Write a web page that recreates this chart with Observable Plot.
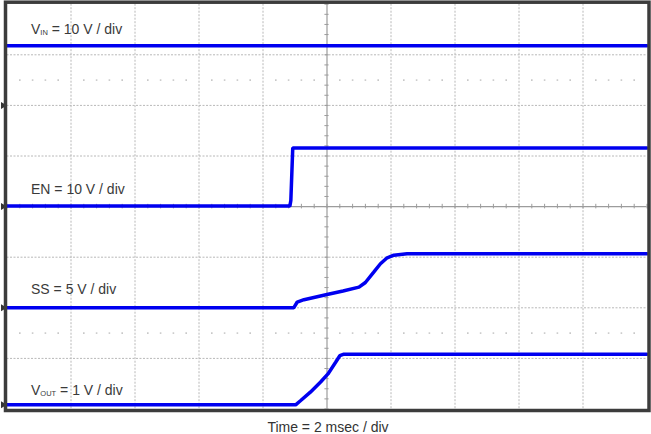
<!DOCTYPE html>
<html><head><meta charset="utf-8">
<script src="https://cdn.jsdelivr.net/npm/d3@7"></script>
<script src="https://cdn.jsdelivr.net/npm/@observablehq/plot@0.6"></script>
<style>body{margin:0;background:#fff;}</style>
</head><body><div id="chart"></div>
<script>
// ---- scope settings ----
const xDomain = [0, 20];          // ms (2 msec / div, 10 div)
const yDomain = [0, 8];           // divisions
const gridX = [2, 4, 6, 8, 12, 14, 16, 18];
const gridY = [1, 2, 3, 5, 6, 7];
const centerX = [10];
const centerY = [4];
const dotRowY = [6.5, 1.5];

// ---- channels ----
const channels = ["VIN", "EN", "SS", "VOUT"];
const voltsPerDiv = [10, 10, 5, 1];
const groundDiv = [6, 4, 2, 0.083];
const labelText = ["VIN = 10 V / div", "EN = 10 V / div", "SS = 5 V / div", "VOUT = 1 V / div"];
const labelY = [7.5, 4.33, 2.37, 0.375];
const labelT = 0.75;
const xLabel = ["Time = 2 msec / div"];

// ---- traces (time ms, volts) ----
const vinT = [0, 20];
const vinV = [11.8, 11.8];
const enT = [0, 8.84, 8.87, 8.93, 20];
const enV = [0.1, 0.1, 1.2, 11.6, 11.6];
const ssT = [0, 8.96, 9.07, 9.28, 10.0, 10.5, 11.0, 11.2, 11.46, 11.67, 11.88, 12.09, 12.5, 20];
const ssV = [0, 0, 0.57, 0.8, 1.31, 1.66, 2.04, 2.5, 3.52, 4.35, 4.94, 5.2, 5.34, 5.34];
const voutT = [0, 9.02, 9.17, 9.48, 9.8, 10.03, 10.27, 10.4, 10.53, 20];
const voutV = [0, 0, 0.08, 0.25, 0.45, 0.61, 0.84, 0.97, 1.0, 1.0];

const traceT = [vinT, enT, ssT, voutT];
const traceV = [vinV, enV, ssV, voutV];
const rows = [];
channels.forEach((ch, i) => {
  traceT[i].forEach((t, j) => rows.push({ch, t, y: groundDiv[i] + traceV[i][j] / voltsPerDiv[i]}));
});
const labels = channels.map((ch, i) => ({ch, text: labelText[i], y: labelY[i], t: labelT}));
const markers = channels.map((ch, i) => ({ch, y: groundDiv[i]}));

// minor dots / ticks derived from the grid
const minorX = d3.range(0, 20.001, 0.4).map(v => +v.toFixed(2)).filter(v => Math.abs(v / 2 - Math.round(v / 2)) > 1e-6);
const dots = [];
dotRowY.forEach(y => minorX.forEach(x => dots.push({x, y})));
const hTicks = d3.range(0, 20.001, 0.4).map(v => +v.toFixed(2));
const vTicks = d3.range(0, 8.001, 0.2).map(v => +v.toFixed(2));

const gridColor = "#b8b8b8";
const plot = Plot.plot({
  width: 651, height: 434,
  marginLeft: 6.5, marginRight: 4.5, marginTop: 3.7, marginBottom: 25.5,
  x: {domain: xDomain, axis: null},
  y: {domain: yDomain, axis: null},
  style: {fontFamily: "'Liberation Sans', Arial, sans-serif", background: "#fff", overflow: "visible"},
  marks: [
    Plot.ruleX(gridX, {stroke: gridColor, strokeWidth: 1, strokeDasharray: "2,1.5"}),
    Plot.ruleY(gridY, {stroke: gridColor, strokeWidth: 1, strokeDasharray: "2,1.5"}),
    Plot.dot(dots, {x: "x", y: "y", symbol: "square", r: 0.9, fill: "#c8c8c8"}),
    Plot.ruleX(centerX, {stroke: "#9c9c9c", strokeWidth: 1.2}),
    Plot.ruleY(centerY, {stroke: "#9c9c9c", strokeWidth: 1.2}),
    Plot.ruleX(hTicks, {x: d => d, y1: 4 - 0.045, y2: 4 + 0.045, stroke: "#9c9c9c", strokeWidth: 1}),
    Plot.ruleY(vTicks, {y: d => d, x1: 10 - 0.065, x2: 10 + 0.065, stroke: "#9c9c9c", strokeWidth: 1}),
    Plot.line(rows, {x: "t", y: "y", z: "ch", stroke: "#0000f0", strokeWidth: 3.5, strokeLinejoin: "miter"}),
    Plot.text(labels, {x: "t", y: "y", text: "text", textAnchor: "start", fontSize: 14, fill: "#3a3a3a"}),
    Plot.dot(markers, {frameAnchor: "left", y: "y", dx: -4, symbol: "triangle", rotate: 90, r: 2.6, fill: "#333"}),
    Plot.frame({stroke: "#3c3c3c", strokeWidth: 3.5, insetLeft: -1.5, insetRight: -2, insetTop: -2, insetBottom: -1.5}),
    Plot.text(xLabel, {frameAnchor: "bottom", dy: 23, dx: 1, fontSize: 14, fill: "#333"})
  ]
});

// subscripts for VIN / VOUT
d3.select(plot).selectAll("text").each(function() {
  const s = this.textContent;
  const m = s.match(/^V(IN|OUT)( = .*)$/);
  if (!m) return;
  const el = d3.select(this);
  el.selectAll("*").remove();
  el.text(null);
  el.append("tspan").text("V");
  el.append("tspan").attr("font-size", 7.5).attr("dy", 1.2).text(m[1]);
  el.append("tspan").attr("dy", -1.2).text(m[2]);
});

document.getElementById("chart").appendChild(plot);
</script>
</body></html>
